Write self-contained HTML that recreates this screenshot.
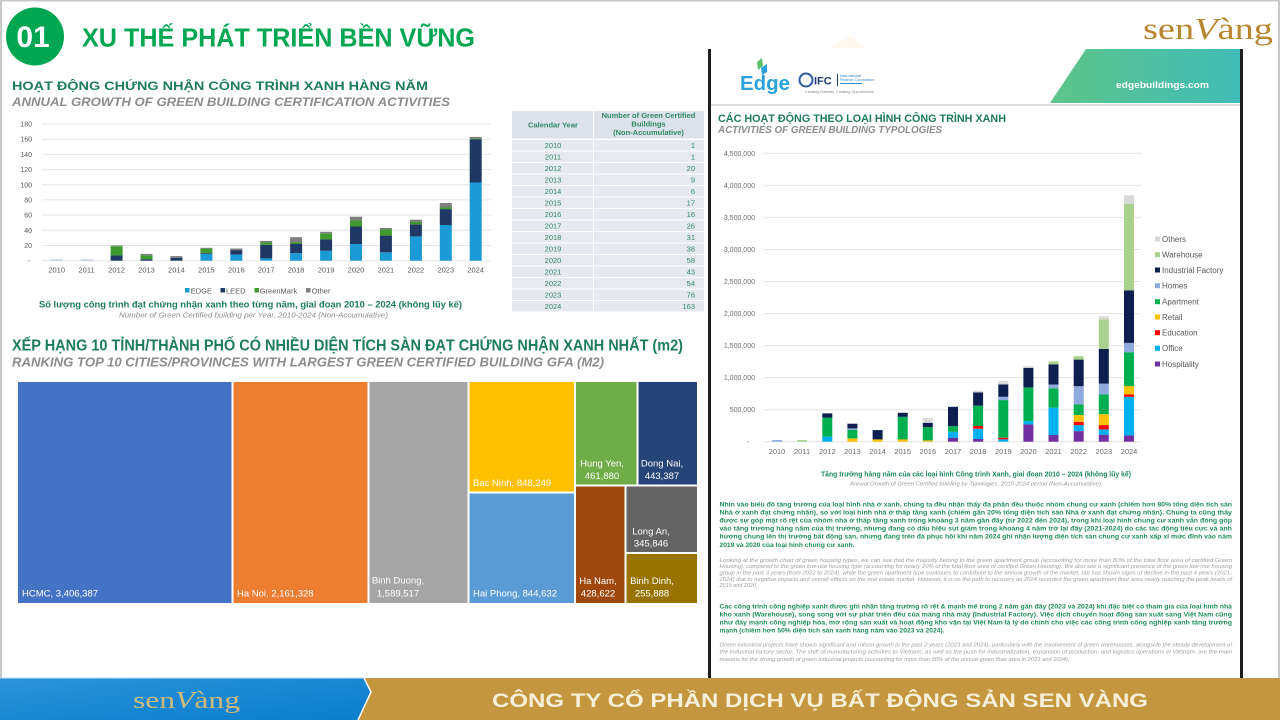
<!DOCTYPE html>
<html><head><meta charset="utf-8"><style>
html,body{margin:0;padding:0;background:#fff;}
svg{display:block;font-family:"Liberation Sans","Noto Sans CJK SC",sans-serif;}
</style></head><body>
<svg width="1280" height="720" viewBox="0 0 1280 720" xmlns="http://www.w3.org/2000/svg">
<defs>
<linearGradient id="ban" x1="0" x2="1" y1="0" y2="0"><stop offset="0" stop-color="#5ec48a"/><stop offset="1" stop-color="#40bcb6"/></linearGradient>
<linearGradient id="blu" x1="0" x2="1" y1="0" y2="1"><stop offset="0" stop-color="#2b93da"/><stop offset="1" stop-color="#0a7dcc"/></linearGradient>
</defs>
<rect width="1280" height="720" fill="#fff"/>
<!-- slide frame -->
<rect x="0" y="0" width="1280" height="1.5" fill="#c8c8c8"/>
<rect x="0" y="0" width="2" height="678" fill="#c8c8c8"/>
<rect x="1278" y="0" width="2" height="678" fill="#c8c8c8"/>
<polygon points="830,48 850,36 866,48" fill="#fef8ee"/>

<!-- header -->
<circle cx="35" cy="36.5" r="29" fill="#00a651"/>
<text x="33" y="47" font-size="30" font-weight="bold" fill="#fff" text-anchor="middle">01</text>
<text x="82" y="46.5" font-size="25.5" font-weight="bold" fill="#00a651" textLength="393" lengthAdjust="spacingAndGlyphs">XU THẾ PHÁT TRIỂN BỀN VỮNG</text>

<!-- top right logo -->
<text x="1143" y="39" font-family="Liberation Serif,serif" font-size="31" fill="#b8862f" textLength="130" lengthAdjust="spacingAndGlyphs">sen<tspan font-style="italic">V</tspan>àng</text>

<!-- Left section titles -->
<text x="12" y="90" font-size="12" font-weight="bold" fill="#1d7b5e" textLength="416" lengthAdjust="spacingAndGlyphs">HOẠT ĐỘNG CHỨNG NHẬN CÔNG TRÌNH XANH HÀNG NĂM</text>
<text x="12" y="106" font-size="12" font-weight="bold" font-style="italic" fill="#8c8c8c" textLength="438" lengthAdjust="spacingAndGlyphs">ANNUAL GROWTH OF GREEN BUILDING CERTIFICATION ACTIVITIES</text>

<!-- Left bar chart -->
<g stroke="#e6e6e6" stroke-width="1">
<line x1="42" x2="491" y1="124" y2="124"/><line x1="42" x2="491" y1="139.2" y2="139.2"/><line x1="42" x2="491" y1="154.4" y2="154.4"/><line x1="42" x2="491" y1="169.6" y2="169.6"/><line x1="42" x2="491" y1="184.8" y2="184.8"/><line x1="42" x2="491" y1="199.9" y2="199.9"/><line x1="42" x2="491" y1="215.1" y2="215.1"/><line x1="42" x2="491" y1="230.3" y2="230.3"/><line x1="42" x2="491" y1="245.5" y2="245.5"/><line x1="42" x2="491" y1="260.7" y2="260.7"/>
</g>
<g font-size="7" fill="#595959" text-anchor="end">
<text x="32" y="126.5">180</text><text x="32" y="141.7">160</text><text x="32" y="156.9">140</text><text x="32" y="172.1">120</text><text x="32" y="187.3">100</text><text x="32" y="202.4">80</text><text x="32" y="217.6">60</text><text x="32" y="232.8">40</text><text x="32" y="248">20</text><text x="30" y="263">-</text>
</g>
<g>
<rect x="50.7" y="259.5" width="12" height="1.2" fill="#b8c8da"/>
<rect x="80.6" y="259.5" width="12" height="1.2" fill="#b8c8da"/>
<rect x="110.6" y="255.4" width="12" height="5.3" fill="#203864"/><rect x="110.6" y="246.3" width="12" height="9.1" fill="#3f9b2f"/><rect x="110.6" y="245.5" width="12" height="0.8" fill="#7f7f7f"/>
<rect x="140.5" y="259.2" width="12" height="1.5" fill="#203864"/><rect x="140.5" y="255.4" width="12" height="3.8" fill="#3f9b2f"/><rect x="140.5" y="253.9" width="12" height="1.5" fill="#7f7f7f"/>
<rect x="170.4" y="257.7" width="12" height="3" fill="#203864"/><rect x="170.4" y="256.1" width="12" height="1.6" fill="#7f7f7f"/>
<rect x="200.4" y="253.9" width="12" height="6.8" fill="#1b9ad6"/><rect x="200.4" y="253.1" width="12" height="0.8" fill="#203864"/><rect x="200.4" y="248.6" width="12" height="4.5" fill="#3f9b2f"/><rect x="200.4" y="247.8" width="12" height="0.8" fill="#7f7f7f"/>
<rect x="230.3" y="254.6" width="12" height="6.1" fill="#1b9ad6"/><rect x="230.3" y="250.1" width="12" height="4.5" fill="#203864"/><rect x="230.3" y="248.5" width="12" height="1.6" fill="#7f7f7f"/>
<rect x="260.2" y="258.4" width="12" height="2.3" fill="#1b9ad6"/><rect x="260.2" y="244.8" width="12" height="13.6" fill="#203864"/><rect x="260.2" y="242.5" width="12" height="2.3" fill="#3f9b2f"/><rect x="260.2" y="240.9" width="12" height="1.6" fill="#7f7f7f"/>
<rect x="290.1" y="253.1" width="12" height="7.6" fill="#1b9ad6"/><rect x="290.1" y="244" width="12" height="9.1" fill="#203864"/><rect x="290.1" y="242.5" width="12" height="1.5" fill="#3f9b2f"/><rect x="290.1" y="237.2" width="12" height="5.3" fill="#7f7f7f"/>
<rect x="320.1" y="250.8" width="12" height="9.9" fill="#1b9ad6"/><rect x="320.1" y="239.4" width="12" height="11.4" fill="#203864"/><rect x="320.1" y="233.3" width="12" height="6.1" fill="#3f9b2f"/><rect x="320.1" y="231.8" width="12" height="1.5" fill="#7f7f7f"/>
<rect x="350" y="244" width="12" height="16.7" fill="#1b9ad6"/><rect x="350" y="226.5" width="12" height="17.5" fill="#203864"/><rect x="350" y="220.5" width="12" height="6" fill="#3f9b2f"/><rect x="350" y="216.7" width="12" height="3.8" fill="#7f7f7f"/>
<rect x="379.9" y="252.3" width="12" height="8.4" fill="#1b9ad6"/><rect x="379.9" y="235.6" width="12" height="16.7" fill="#203864"/><rect x="379.9" y="229.5" width="12" height="6.1" fill="#3f9b2f"/><rect x="379.9" y="228" width="12" height="1.5" fill="#7f7f7f"/>
<rect x="409.9" y="236.4" width="12" height="24.3" fill="#1b9ad6"/><rect x="409.9" y="224.3" width="12" height="12.1" fill="#203864"/><rect x="409.9" y="222" width="12" height="2.3" fill="#3f9b2f"/><rect x="409.9" y="219.7" width="12" height="2.3" fill="#7f7f7f"/>
<rect x="439.8" y="225" width="12" height="35.7" fill="#1b9ad6"/><rect x="439.8" y="209.1" width="12" height="15.9" fill="#203864"/><rect x="439.8" y="207.5" width="12" height="1.6" fill="#3f9b2f"/><rect x="439.8" y="203" width="12" height="4.5" fill="#7f7f7f"/>
<rect x="469.7" y="182.5" width="12" height="78.2" fill="#1b9ad6"/><rect x="469.7" y="139.2" width="12" height="43.3" fill="#203864"/><rect x="469.7" y="138.4" width="12" height="0.8" fill="#3f9b2f"/><rect x="469.7" y="136.9" width="12" height="1.5" fill="#7f7f7f"/>
</g>
<g font-size="7.5" fill="#595959" text-anchor="middle">
<text x="56.7" y="272.5">2010</text><text x="86.6" y="272.5">2011</text><text x="116.6" y="272.5">2012</text><text x="146.5" y="272.5">2013</text><text x="176.4" y="272.5">2014</text><text x="206.4" y="272.5">2015</text><text x="236.3" y="272.5">2016</text><text x="266.2" y="272.5">2017</text><text x="296.1" y="272.5">2018</text><text x="326.1" y="272.5">2019</text><text x="356" y="272.5">2020</text><text x="385.9" y="272.5">2021</text><text x="415.9" y="272.5">2022</text><text x="445.8" y="272.5">2023</text><text x="475.7" y="272.5">2024</text>
</g>
<g font-size="7.5" fill="#595959">
<rect x="185" y="288" width="4.5" height="4.5" fill="#1b9ad6"/><text x="190.7" y="293.3">EDGE</text>
<rect x="220.5" y="288" width="4.5" height="4.5" fill="#203864"/><text x="226" y="293.3">LEED</text>
<rect x="254.5" y="288" width="4.5" height="4.5" fill="#3f9b2f"/><text x="259.7" y="293.3">GreenMark</text>
<rect x="306" y="288" width="4.5" height="4.5" fill="#7f7f7f"/><text x="311.7" y="293.3">Other</text>
</g>
<text x="39" y="307.7" font-size="9" font-weight="bold" fill="#1d7b5e" textLength="423" lengthAdjust="spacingAndGlyphs">Số lượng công trình đạt chứng nhận xanh theo từng năm, giai đoạn 2010 – 2024 (không lũy kế)</text>
<text x="119" y="317.5" font-size="7.5" font-style="italic" fill="#8c8c8c" textLength="269" lengthAdjust="spacingAndGlyphs">Number of Green Certified building per Year, 2010-2024 (Non-Accumulative)</text>

<!-- Table -->
<rect x="512" y="111" width="81" height="27.5" fill="#dce1ea"/>
<rect x="594" y="111" width="110" height="27.5" fill="#dce1ea"/>
<g font-size="7.5" font-weight="bold" fill="#2e8a64" text-anchor="middle">
<text x="553" y="127.5">Calendar Year</text>
<text x="648.5" y="118">Number of Green Certified</text>
<text x="648.5" y="126.5">Buildings</text>
<text x="648.5" y="135">(Non-Accumulative)</text>
</g>
<g fill="#e6eaf0">
<rect x="512" y="140" width="81" height="10.5"/><rect x="594" y="140" width="110" height="10.5"/>
<rect x="512" y="151.5" width="81" height="10.5"/><rect x="594" y="151.5" width="110" height="10.5"/>
<rect x="512" y="163" width="81" height="10.5"/><rect x="594" y="163" width="110" height="10.5"/>
<rect x="512" y="174.5" width="81" height="10.5"/><rect x="594" y="174.5" width="110" height="10.5"/>
<rect x="512" y="186" width="81" height="10.5"/><rect x="594" y="186" width="110" height="10.5"/>
<rect x="512" y="197.5" width="81" height="10.5"/><rect x="594" y="197.5" width="110" height="10.5"/>
<rect x="512" y="209" width="81" height="10.5"/><rect x="594" y="209" width="110" height="10.5"/>
<rect x="512" y="220.5" width="81" height="10.5"/><rect x="594" y="220.5" width="110" height="10.5"/>
<rect x="512" y="232" width="81" height="10.5"/><rect x="594" y="232" width="110" height="10.5"/>
<rect x="512" y="243.5" width="81" height="10.5"/><rect x="594" y="243.5" width="110" height="10.5"/>
<rect x="512" y="255" width="81" height="10.5"/><rect x="594" y="255" width="110" height="10.5"/>
<rect x="512" y="266.5" width="81" height="10.5"/><rect x="594" y="266.5" width="110" height="10.5"/>
<rect x="512" y="278" width="81" height="10.5"/><rect x="594" y="278" width="110" height="10.5"/>
<rect x="512" y="289.5" width="81" height="10.5"/><rect x="594" y="289.5" width="110" height="10.5"/>
<rect x="512" y="301" width="81" height="10.5"/><rect x="594" y="301" width="110" height="10.5"/>
</g>
<g font-size="7.5" fill="#2e8a64" text-anchor="middle">
<text x="553" y="148.2">2010</text><text x="553" y="159.7">2011</text><text x="553" y="171.2">2012</text><text x="553" y="182.7">2013</text><text x="553" y="194.2">2014</text><text x="553" y="205.7">2015</text><text x="553" y="217.2">2016</text><text x="553" y="228.7">2017</text><text x="553" y="240.2">2018</text><text x="553" y="251.7">2019</text><text x="553" y="263.2">2020</text><text x="553" y="274.7">2021</text><text x="553" y="286.2">2022</text><text x="553" y="297.7">2023</text><text x="553" y="309.2">2024</text>
</g>
<g font-size="7.5" fill="#2e8a64" text-anchor="end">
<text x="695" y="148.2">1</text><text x="695" y="159.7">1</text><text x="695" y="171.2">20</text><text x="695" y="182.7">9</text><text x="695" y="194.2">6</text><text x="695" y="205.7">17</text><text x="695" y="217.2">16</text><text x="695" y="228.7">26</text><text x="695" y="240.2">31</text><text x="695" y="251.7">38</text><text x="695" y="263.2">58</text><text x="695" y="274.7">43</text><text x="695" y="286.2">54</text><text x="695" y="297.7">76</text><text x="695" y="309.2">163</text>
</g>

<!-- Treemap section -->
<text x="12" y="350.5" font-size="15.5" font-weight="bold" fill="#1d7b5e" textLength="671" lengthAdjust="spacingAndGlyphs">XẾP HẠNG 10 TỈNH/THÀNH PHỐ CÓ NHIỀU DIỆN TÍCH SÀN ĐẠT CHỨNG NHẬN XANH NHẤT (m2)</text>
<text x="12" y="366.5" font-size="13" font-weight="bold" font-style="italic" fill="#8c8c8c" textLength="592" lengthAdjust="spacingAndGlyphs">RANKING TOP 10 CITIES/PROVINCES WITH LARGEST GREEN CERTIFIED BUILDING GFA (M2)</text>
<rect x="18" y="382" width="213.5" height="221" fill="#4472c4"/>
<rect x="233.5" y="382" width="134" height="221" fill="#ed7d31"/>
<rect x="369.5" y="382" width="98" height="221" fill="#a5a5a5"/>
<rect x="469.5" y="382" width="104.5" height="109.5" fill="#ffc000"/>
<rect x="469.5" y="493.5" width="104.5" height="109.5" fill="#5b9bd5"/>
<rect x="576" y="382" width="60.5" height="102.5" fill="#70ad47"/>
<rect x="638.5" y="382" width="58.5" height="102.5" fill="#264478"/>
<rect x="576" y="486.5" width="48.5" height="116.5" fill="#9e480e"/>
<rect x="626.5" y="486.5" width="70.5" height="65.5" fill="#636363"/>
<rect x="626.5" y="554" width="70.5" height="49" fill="#997300"/>
<g font-size="9.5" fill="#fff">
<text x="22" y="596.5">HCMC,  3,406,387</text>
<text x="237" y="596.5">Ha Noi,  2,161,328</text>
<text x="473" y="486">Bac Ninh,  848,249</text>
<text x="473" y="596.5">Hai Phong,  844,632</text>
</g>
<g font-size="9.5" fill="#fff" text-anchor="middle">
<text x="398" y="583.5">Binh Duong,</text><text x="398" y="596.5">1,589,517</text>
<text x="602" y="466.5">Hung Yen,</text><text x="602" y="479">461,880</text>
<text x="662" y="466.5">Dong Nai,</text><text x="662" y="479">443,387</text>
<text x="598" y="584">Ha Nam,</text><text x="598" y="596.5">428,622</text>
<text x="651" y="534.5">Long An,</text><text x="651" y="546.5">345,846</text>
<text x="652" y="584">Binh Dinh,</text><text x="652" y="596.5">255,888</text>
</g>

<!-- Right panel -->
<rect x="711" y="49" width="529" height="629" fill="#fff"/>
<rect x="708" y="49" width="3" height="629" fill="#1e1e1e"/>
<rect x="1240" y="49" width="3" height="629" fill="#1e1e1e"/>
<polygon points="1086,49 1240,49 1240,103 1050,103" fill="url(#ban)"/>
<text x="1116" y="88" font-size="9" font-weight="bold" fill="#fff" textLength="93" lengthAdjust="spacingAndGlyphs">edgebuildings.com</text>
<rect x="711" y="104" width="529" height="2" fill="#dcdcdc"/>
<polygon points="757,62 762,58 763,66 758,70" fill="#5cbf6a"/>
<polygon points="761,68 767,64 767,72 762,75" fill="#2aa3dc"/>
<text x="740" y="90" font-size="20" font-weight="bold" fill="#2aa3dc" textLength="50" lengthAdjust="spacingAndGlyphs">Edge</text>
<circle cx="806" cy="80" r="6.5" fill="none" stroke="#2c5aa0" stroke-width="2"/>
<text x="814" y="84.5" font-size="11" font-weight="bold" fill="#1e3c78">IFC</text>
<rect x="837" y="74" width="1" height="12" fill="#1e3c78"/>
<g font-size="3.8" fill="#3b86c6"><text x="840" y="77">International</text><text x="840" y="81">Finance Corporation</text></g>
<rect x="840" y="83" width="22" height="1" fill="#3b86c6"/>
<text x="805" y="93" font-size="3.8" fill="#888">Creating Markets, Creating Opportunities</text>

<text x="718" y="122" font-size="11" font-weight="bold" fill="#1d7b5e" textLength="288" lengthAdjust="spacingAndGlyphs">CÁC HOẠT ĐỘNG THEO LOẠI HÌNH CÔNG TRÌNH XANH</text>
<text x="718" y="133" font-size="10" font-weight="bold" font-style="italic" fill="#8c8c8c" textLength="224" lengthAdjust="spacingAndGlyphs">ACTIVITIES OF GREEN BUILDING TYPOLOGIES</text>

<g stroke="#e3e3e3" stroke-width="1">
<line x1="764" x2="1141" y1="153.3" y2="153.3"/><line x1="764" x2="1141" y1="185.4" y2="185.4"/><line x1="764" x2="1141" y1="217.4" y2="217.4"/><line x1="764" x2="1141" y1="249.5" y2="249.5"/><line x1="764" x2="1141" y1="281.5" y2="281.5"/><line x1="764" x2="1141" y1="313.6" y2="313.6"/><line x1="764" x2="1141" y1="345.6" y2="345.6"/><line x1="764" x2="1141" y1="377.6" y2="377.6"/><line x1="764" x2="1141" y1="409.7" y2="409.7"/><line x1="764" x2="1141" y1="441.7" y2="441.7"/>
</g>
<g font-size="7" fill="#6b6b6b" text-anchor="end">
<text x="755" y="156">4,500,000</text><text x="755" y="188">4,000,000</text><text x="755" y="220">3,500,000</text><text x="755" y="252">3,000,000</text><text x="755" y="284">2,500,000</text><text x="755" y="316">2,000,000</text><text x="755" y="348">1,500,000</text><text x="755" y="380">1,000,000</text><text x="755" y="412">500,000</text><text x="749" y="444">-</text>
</g>
<g>
<rect x="772" y="440.1" width="10" height="1.6" fill="#8faadc"/>
<rect x="797.1" y="440.1" width="10" height="1.6" fill="#a9d18e"/>
<rect x="822.3" y="436.7" width="10" height="5" fill="#00b0f0"/><rect x="822.3" y="417.7" width="10" height="19" fill="#00b050"/><rect x="822.3" y="413.4" width="10" height="4.3" fill="#0c1f4f"/>
<rect x="847.4" y="438.4" width="10" height="3.3" fill="#ffc000"/><rect x="847.4" y="430" width="10" height="8.4" fill="#00b050"/><rect x="847.4" y="428.4" width="10" height="1.6" fill="#8faadc"/><rect x="847.4" y="423.7" width="10" height="4.7" fill="#0c1f4f"/>
<rect x="872.6" y="439.4" width="10" height="2.3" fill="#ffc000"/><rect x="872.6" y="430.1" width="10" height="9.3" fill="#0c1f4f"/>
<rect x="897.7" y="439.4" width="10" height="2.3" fill="#ffc000"/><rect x="897.7" y="416.8" width="10" height="22.6" fill="#00b050"/><rect x="897.7" y="412.8" width="10" height="4" fill="#0c1f4f"/>
<rect x="922.8" y="440.4" width="10" height="1.3" fill="#ffc000"/><rect x="922.8" y="427.1" width="10" height="13.3" fill="#00b050"/><rect x="922.8" y="422.8" width="10" height="4.3" fill="#0c1f4f"/><rect x="922.8" y="418.1" width="10" height="4.7" fill="#d9d9d9"/>
<rect x="948" y="437.7" width="10" height="4" fill="#7030a0"/><rect x="948" y="431.8" width="10" height="5.9" fill="#00b0f0"/><rect x="948" y="426.1" width="10" height="5.7" fill="#00b050"/><rect x="948" y="406.8" width="10" height="19.3" fill="#0c1f4f"/>
<rect x="973.1" y="439" width="10" height="2.7" fill="#7030a0"/><rect x="973.1" y="428.7" width="10" height="10.3" fill="#00b0f0"/><rect x="973.1" y="426" width="10" height="2.7" fill="#ff0000"/><rect x="973.1" y="405.7" width="10" height="20.3" fill="#00b050"/><rect x="973.1" y="392.4" width="10" height="13.3" fill="#0c1f4f"/><rect x="973.1" y="390.7" width="10" height="1.7" fill="#d9d9d9"/>
<rect x="998.3" y="439.4" width="10" height="2.3" fill="#00b0f0"/><rect x="998.3" y="437.7" width="10" height="1.7" fill="#ff0000"/><rect x="998.3" y="400.1" width="10" height="37.6" fill="#00b050"/><rect x="998.3" y="396.8" width="10" height="3.3" fill="#8faadc"/><rect x="998.3" y="384.5" width="10" height="12.3" fill="#0c1f4f"/><rect x="998.3" y="380.8" width="10" height="3.7" fill="#d9d9d9"/>
<rect x="1023.4" y="424.4" width="10" height="17.3" fill="#7030a0"/><rect x="1023.4" y="421.1" width="10" height="3.3" fill="#00b0f0"/><rect x="1023.4" y="387.4" width="10" height="33.7" fill="#00b050"/><rect x="1023.4" y="367.8" width="10" height="19.6" fill="#0c1f4f"/><rect x="1023.4" y="366.2" width="10" height="1.6" fill="#d9d9d9"/>
<rect x="1048.5" y="435" width="10" height="6.7" fill="#7030a0"/><rect x="1048.5" y="407.7" width="10" height="27.3" fill="#00b0f0"/><rect x="1048.5" y="388.4" width="10" height="19.3" fill="#00b050"/><rect x="1048.5" y="384.5" width="10" height="3.9" fill="#8faadc"/><rect x="1048.5" y="364.5" width="10" height="20" fill="#0c1f4f"/><rect x="1048.5" y="361.4" width="10" height="3.1" fill="#a9d18e"/>
<rect x="1073.7" y="431.1" width="10" height="10.6" fill="#7030a0"/><rect x="1073.7" y="425.1" width="10" height="6" fill="#00b0f0"/><rect x="1073.7" y="421.8" width="10" height="3.3" fill="#ff0000"/><rect x="1073.7" y="415.1" width="10" height="6.7" fill="#ffc000"/><rect x="1073.7" y="404.5" width="10" height="10.6" fill="#00b050"/><rect x="1073.7" y="386.2" width="10" height="18.3" fill="#8faadc"/><rect x="1073.7" y="359.6" width="10" height="26.6" fill="#0c1f4f"/><rect x="1073.7" y="356.2" width="10" height="3.4" fill="#a9d18e"/>
<rect x="1098.8" y="434.7" width="10" height="7" fill="#7030a0"/><rect x="1098.8" y="429.4" width="10" height="5.3" fill="#00b0f0"/><rect x="1098.8" y="425.1" width="10" height="4.3" fill="#ff0000"/><rect x="1098.8" y="414.1" width="10" height="11" fill="#ffc000"/><rect x="1098.8" y="394.5" width="10" height="19.6" fill="#00b050"/><rect x="1098.8" y="383.6" width="10" height="10.9" fill="#8faadc"/><rect x="1098.8" y="348.9" width="10" height="34.7" fill="#0c1f4f"/><rect x="1098.8" y="319.3" width="10" height="29.6" fill="#a9d18e"/><rect x="1098.8" y="316.3" width="10" height="3" fill="#d9d9d9"/>
<rect x="1124" y="435.4" width="10" height="6.3" fill="#7030a0"/><rect x="1124" y="396.8" width="10" height="38.6" fill="#00b0f0"/><rect x="1124" y="394.5" width="10" height="2.3" fill="#ff0000"/><rect x="1124" y="386.1" width="10" height="8.4" fill="#ffc000"/><rect x="1124" y="352.2" width="10" height="33.9" fill="#00b050"/><rect x="1124" y="342.9" width="10" height="9.3" fill="#8faadc"/><rect x="1124" y="290.3" width="10" height="52.6" fill="#0c1f4f"/><rect x="1124" y="203.8" width="10" height="86.5" fill="#a9d18e"/><rect x="1124" y="195.4" width="10" height="8.4" fill="#d9d9d9"/>
</g>
<g font-size="7.5" fill="#6b6b6b" text-anchor="middle">
<text x="777" y="454">2010</text><text x="802.1" y="454">2011</text><text x="827.3" y="454">2012</text><text x="852.4" y="454">2013</text><text x="877.6" y="454">2014</text><text x="902.7" y="454">2015</text><text x="927.8" y="454">2016</text><text x="953" y="454">2017</text><text x="978.1" y="454">2018</text><text x="1003.3" y="454">2019</text><text x="1028.4" y="454">2020</text><text x="1053.5" y="454">2021</text><text x="1078.7" y="454">2022</text><text x="1103.8" y="454">2023</text><text x="1129" y="454">2024</text>
</g>
<g font-size="8" fill="#595959">
<rect x="1155" y="236.5" width="5" height="5" fill="#d9d9d9"/><text x="1162" y="241.8">Others</text>
<rect x="1155" y="252.2" width="5" height="5" fill="#a9d18e"/><text x="1162" y="257.5">Warehouse</text>
<rect x="1155" y="267.5" width="5" height="5" fill="#0c1f4f"/><text x="1162" y="272.8">Industrial Factory</text>
<rect x="1155" y="283.2" width="5" height="5" fill="#8faadc"/><text x="1162" y="288.5">Homes</text>
<rect x="1155" y="299.2" width="5" height="5" fill="#00b050"/><text x="1162" y="304.5">Apartment</text>
<rect x="1155" y="314.5" width="5" height="5" fill="#ffc000"/><text x="1162" y="319.8">Retail</text>
<rect x="1155" y="330.2" width="5" height="5" fill="#ff0000"/><text x="1162" y="335.5">Education</text>
<rect x="1155" y="345.8" width="5" height="5" fill="#00b0f0"/><text x="1162" y="351.1">Office</text>
<rect x="1155" y="361.5" width="5" height="5" fill="#7030a0"/><text x="1162" y="366.8">Hospitality</text>
</g>
<text x="821" y="476.5" font-size="7" font-weight="bold" fill="#1d8a5e" textLength="310" lengthAdjust="spacingAndGlyphs">Tăng trưởng hàng năm của các loại hình Công trình Xanh, giai đoạn 2010 – 2024 (không lũy kế)</text>
<text x="850" y="485.3" font-size="5.5" font-style="italic" fill="#9a9a9a" textLength="251" lengthAdjust="spacingAndGlyphs">Annual Growth of Green Certified building by Typologies, 2010-2024 period (Non-Accumulative)</text>

<g font-size="6.6" font-weight="bold" fill="#1f8f5c">
<text x="719.5" y="506.3" textLength="512.5" lengthAdjust="spacingAndGlyphs">Nhìn vào biểu đồ tăng trưởng của loại hình nhà ở xanh, chúng ta đều nhận thấy đa phần đều thuộc nhóm chung cư xanh (chiếm hơn 80% tổng diện tích sàn</text>
<text x="719.5" y="514.4" textLength="512.5" lengthAdjust="spacingAndGlyphs">Nhà ở xanh đạt chứng nhận), so với loại hình nhà ở thấp tầng xanh (chiếm gần 20% tổng diện tích sàn Nhà ở xanh đạt chứng nhận). Chúng ta cũng thấy</text>
<text x="719.5" y="522.5" textLength="512.5" lengthAdjust="spacingAndGlyphs">được sự góp mặt rõ rệt của nhóm nhà ở thấp tầng xanh trong khoảng 3 năm gần đây (từ 2022 đến 2024), trong khi loại hình chung cư xanh vẫn đóng góp</text>
<text x="719.5" y="530.6" textLength="512.5" lengthAdjust="spacingAndGlyphs">vào tăng trưởng hàng năm của thị trường, nhưng đang có dấu hiệu sụt giảm trong khoảng 4 năm trở lại đây (2021-2024) do các tác động tiêu cực và ảnh</text>
<text x="719.5" y="538.7" textLength="512.5" lengthAdjust="spacingAndGlyphs">hưởng chung lên thị trường bất động sản, nhưng đang trên đà phục hồi khi năm 2024 ghi nhận lượng diện tích sàn chung cư xanh xấp xỉ mức đỉnh vào năm</text>
<text x="719.5" y="546.8" textLength="135" lengthAdjust="spacingAndGlyphs">2019 và 2020 của loại hình chung cư xanh.</text>
</g>
<g font-size="5.2" font-style="italic" fill="#a0a0a0">
<text x="719.5" y="561.8" textLength="512.5" lengthAdjust="spacingAndGlyphs">Looking at the growth chart of green housing types, we can see that the majority belong to the green apartment group (accounting for more than 80% of the total floor area of certified Green</text>
<text x="719.5" y="568.1" textLength="512.5" lengthAdjust="spacingAndGlyphs">Housing), compared to the green low-rise housing type (accounting for nearly 20% of the total floor area of certified Green Housing). We also see a significant presence of the green low-rise housing</text>
<text x="719.5" y="574.5" textLength="512.5" lengthAdjust="spacingAndGlyphs">group in the past 3 years (from 2022 to 2024), while the green apartment type continues to contribute to the annual growth of the market, but has shown signs of decline in the past 4 years (2021-</text>
<text x="719.5" y="580.8" textLength="512.5" lengthAdjust="spacingAndGlyphs">2024) due to negative impacts and overall effects on the real estate market. However, it is on the path to recovery as 2024 recorded the green apartment floor area nearly reaching the peak levels of</text>
<text x="719.5" y="587.1" textLength="38" lengthAdjust="spacingAndGlyphs">2019 and 2020.</text>
</g>
<g font-size="6.6" font-weight="bold" fill="#1f8f5c">
<text x="719.5" y="608.3" textLength="512.5" lengthAdjust="spacingAndGlyphs">Các công trình công nghiệp xanh được ghi nhận tăng trưởng rõ rệt &amp; mạnh mẽ trong 2 năm gần đây (2023 và 2024) khi đặc biệt có tham gia của loại hình nhà</text>
<text x="719.5" y="616.3" textLength="512.5" lengthAdjust="spacingAndGlyphs">kho xanh (Warehouse), song song với sự phát triển đều của mảng nhà máy (Industrial Factory). Việc dịch chuyển hoạt động sản xuất sang Việt Nam cũng</text>
<text x="719.5" y="624.3" textLength="512.5" lengthAdjust="spacingAndGlyphs">như đẩy mạnh công nghiệp hóa, mở rộng sản xuất và hoạt động kho vận tại Việt Nam là lý do chính cho việc các công trình công nghiệp xanh tăng trưởng</text>
<text x="719.5" y="632.6" textLength="225" lengthAdjust="spacingAndGlyphs">mạnh (chiếm hơn 50% diện tích sàn xanh hàng năm vào 2023 và 2024).</text>
</g>
<g font-size="5.2" font-style="italic" fill="#a0a0a0">
<text x="719.5" y="646.5" textLength="512.5" lengthAdjust="spacingAndGlyphs">Green industrial projects have shown significant and robust growth in the past 2 years (2023 and 2024), particularly with the involvement of green warehouses, alongside the steady development of</text>
<text x="719.5" y="653.5" textLength="512.5" lengthAdjust="spacingAndGlyphs">the industrial factory sector. The shift of manufacturing activities to Vietnam, as well as the push for industrialization, expansion of production, and logistics operations in Vietnam, are the main</text>
<text x="719.5" y="660.8" textLength="350" lengthAdjust="spacingAndGlyphs">reasons for the strong growth of green industrial projects (accounting for more than 50% of the annual green floor area in 2023 and 2024).</text>
</g>

<!-- Footer -->
<rect x="0" y="678" width="1280" height="42" fill="#c4963f"/>
<polygon points="0,678 364,678 371,692 358,720 0,720" fill="url(#blu)"/>
<polyline points="364,678 371,692 358,720" fill="none" stroke="#fff" stroke-width="1.5"/>
<rect x="0" y="677.5" width="364" height="1" fill="#bfe0f5"/>
<text x="133" y="708" font-family="Liberation Serif,serif" font-size="24" fill="#cdbb7e" textLength="107" lengthAdjust="spacingAndGlyphs">sen<tspan font-style="italic">V</tspan>àng</text>
<text x="492" y="707" font-size="19.5" font-weight="bold" fill="#f7efd8" textLength="656" lengthAdjust="spacingAndGlyphs">CÔNG TY CỔ PHẦN DỊCH VỤ BẤT ĐỘNG SẢN SEN VÀNG</text>
</svg>
</body></html>
